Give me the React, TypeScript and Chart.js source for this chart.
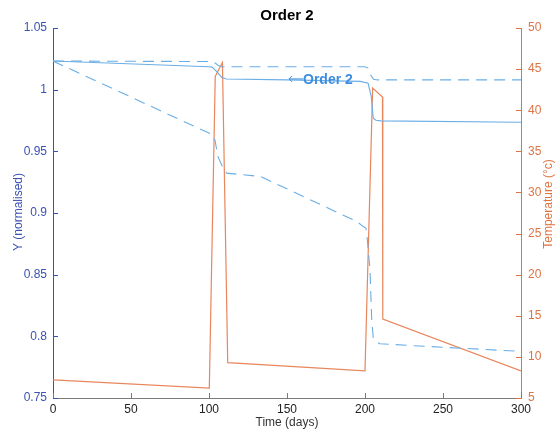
import React, { useEffect, useRef } from "react";
import { Chart, registerables } from "chart.js";

Chart.register(...registerables);

// ---- data ----
const solidT = [0, 100, 102, 105, 108, 111, 150, 197, 202, 204, 205.3, 207, 210, 300];
const solidY = [1.0233, 1.0186, 1.0183, 1.0146, 1.0101, 1.0087, 1.0079, 1.0067, 1.0052, 0.9944, 0.9769, 0.9752, 0.9747, 0.9736];

const upperT = [0, 102.5, 104.5, 106, 108, 200, 202, 204, 205.5, 208, 300];
const upperY = [1.0232, 1.0228, 1.021, 1.0195, 1.0186, 1.0186, 1.0175, 1.011, 1.0085, 1.0079, 1.0079];

const lowerT = [0, 102.5, 103.8, 105.8, 109, 111.3, 133, 195, 198.9, 200.6, 201.5, 203.2, 204.3, 205.3, 207, 209.6, 231, 300];
const lowerY = [1.0232, 0.9633, 0.9593, 0.9455, 0.9366, 0.9323, 0.9296, 0.8929, 0.889, 0.8878, 0.8783, 0.854, 0.8135, 0.7987, 0.7955, 0.794, 0.7924, 0.7878];

const tempT = [0, 100.2, 104.0, 108.6, 112, 200, 204.9, 211.2, 211.4, 300];
const tempV = [7.2, 6.2, 44.1, 45.8, 9.3, 8.3, 42.7, 41.6, 14.6, 8.3];

const xTicks = [0, 50, 100, 150, 200, 250, 300];
const leftTicks = [0.75, 0.8, 0.85, 0.9, 0.95, 1, 1.05];
const leftTickLabels = ["0.75", "0.8", "0.85", "0.9", "0.95", "1", "1.05"];
const rightTicks = [5, 10, 15, 20, 25, 30, 35, 40, 45, 50];

const titleText = "Order 2";
const annotationText = "Order 2";
const annotationAt = { x: 150, y: 1.0079 };

const BLUE_AXIS = "#3c52b3";
const ORANGE_AXIS = "#dc7445";
const BLUE_LINE = "#6aaee6";
const ORANGE_LINE = "#e8865c";
const GRAY = "#7a7a7a";
const FONT = "'Liberation Sans', Arial, Helvetica, sans-serif";

const zip = (t: number[], v: number[]) => t.map((x, i) => ({ x, y: v[i] }));

const decorPlugin = {
  id: "decor",
  afterDatasetsDraw(chart: any) {
    const { ctx, chartArea, scales } = chart;
    const x = scales.x, yl = scales.yL, yr = scales.yR;
    ctx.save();
    ctx.lineWidth = 1;
    // inward ticks
    ctx.strokeStyle = GRAY;
    xTicks.forEach((v) => {
      const px = Math.round(x.getPixelForValue(v)) + 0.5;
      ctx.beginPath();
      ctx.moveTo(px, chartArea.bottom);
      ctx.lineTo(px, chartArea.bottom - 5);
      ctx.stroke();
    });
    ctx.strokeStyle = BLUE_AXIS;
    leftTicks.forEach((v) => {
      const py = Math.round(yl.getPixelForValue(v)) + 0.5;
      ctx.beginPath();
      ctx.moveTo(chartArea.left, py);
      ctx.lineTo(chartArea.left + 5, py);
      ctx.stroke();
    });
    ctx.strokeStyle = ORANGE_AXIS;
    rightTicks.forEach((v) => {
      const py = Math.round(yr.getPixelForValue(v)) + 0.5;
      ctx.beginPath();
      ctx.moveTo(chartArea.right, py);
      ctx.lineTo(chartArea.right - 5, py);
      ctx.stroke();
    });
    // title
    ctx.fillStyle = "#000";
    ctx.font = `bold 15px ${FONT}`;
    ctx.textAlign = "center";
    ctx.textBaseline = "middle";
    ctx.fillText(titleText, (chartArea.left + chartArea.right) / 2, 16);
    // axis titles
    ctx.font = `12px ${FONT}`;
    ctx.fillStyle = "#333";
    ctx.fillText("Time (days)", (chartArea.left + chartArea.right) / 2, 423);
    ctx.save();
    ctx.translate(19, 212);
    ctx.rotate(-Math.PI / 2);
    ctx.fillStyle = BLUE_AXIS;
    ctx.fillText("Y (normalised)", 0, 0);
    ctx.restore();
    ctx.save();
    ctx.translate(549, 204);
    ctx.rotate(-Math.PI / 2);
    ctx.fillStyle = ORANGE_AXIS;
    ctx.fillText("Temperature (°c)", 0, 0);
    ctx.restore();
    // annotation
    const ax = x.getPixelForValue(annotationAt.x);
    const ay = yl.getPixelForValue(annotationAt.y);
    ctx.strokeStyle = "#3d8de0";
    ctx.fillStyle = "#3d8de0";
    ctx.lineWidth = 1;
    ctx.beginPath();
    ctx.moveTo(ax + 2, ay - 1);
    ctx.lineTo(ax + 16, ay - 1);
    ctx.moveTo(ax + 5, ay - 4);
    ctx.lineTo(ax + 2, ay - 1);
    ctx.lineTo(ax + 5, ay + 2);
    ctx.stroke();
    ctx.font = `bold 14px ${FONT}`;
    ctx.textAlign = "left";
    ctx.fillText(annotationText, ax + 16, ay);
    ctx.restore();
  },
};

export default function App() {
  const ref = useRef<HTMLCanvasElement | null>(null);
  useEffect(() => {
    document.body.style.margin = "0";
    const ctx = ref.current!.getContext("2d")!;
    const chart = new Chart(ctx, {
      type: "line",
      data: {
        datasets: [
          { data: zip(solidT, solidY), borderColor: BLUE_LINE, borderWidth: 1.1, pointRadius: 0, yAxisID: "yL", tension: 0 },
          { data: zip(upperT, upperY), borderColor: BLUE_LINE, borderWidth: 1.1, borderDash: [11, 7], pointRadius: 0, yAxisID: "yL", tension: 0 },
          { data: zip(lowerT, lowerY), borderColor: BLUE_LINE, borderWidth: 1.1, borderDash: [11, 7], pointRadius: 0, yAxisID: "yL", tension: 0 },
          { data: zip(tempT, tempV), borderColor: ORANGE_LINE, borderWidth: 1.2, pointRadius: 0, yAxisID: "yR", tension: 0 },
        ],
      },
      options: {
        animation: false,
        responsive: true,
        maintainAspectRatio: false,
        layout: { padding: { top: 28, left: 0, right: 0, bottom: 0 } },
        plugins: { legend: { display: false }, title: { display: false }, tooltip: { enabled: false } },
        scales: {
          x: {
            type: "linear",
            min: 0,
            max: 300,
            afterBuildTicks: (s: any) => { s.ticks = xTicks.map((v) => ({ value: v })); },
            afterFit: (s: any) => { s.height = 37; },
            grid: { display: false, drawTicks: false },
            border: { display: true, color: GRAY },
            ticks: { color: "#222", font: { size: 12, family: FONT }, padding: 4, maxRotation: 0 },
          },
          yL: {
            type: "linear",
            position: "left",
            min: 0.75,
            max: 1.05,
            afterBuildTicks: (s: any) => { s.ticks = leftTicks.map((v) => ({ value: v })); },
            afterFit: (s: any) => { s.width = 53; },
            grid: { display: false, drawTicks: false },
            border: { display: true, color: BLUE_AXIS },
            ticks: {
              color: BLUE_AXIS,
              font: { size: 12, family: FONT },
              padding: 6,
              callback: (v: any) => leftTickLabels[leftTicks.indexOf(Number(v))] ?? String(v),
            },
          },
          yR: {
            type: "linear",
            position: "right",
            min: 5,
            max: 50,
            afterBuildTicks: (s: any) => { s.ticks = rightTicks.map((v) => ({ value: v })); },
            afterFit: (s: any) => { s.width = 36; },
            grid: { display: false, drawTicks: false },
            border: { display: true, color: ORANGE_AXIS },
            ticks: { color: ORANGE_AXIS, font: { size: 12, family: FONT }, padding: 7 },
          },
        },
      } as any,
      plugins: [decorPlugin],
    });
    return () => chart.destroy();
  }, []);
  return (
    <div style={{ position: "relative", width: 557, height: 435 }}>
      <canvas ref={ref} />
    </div>
  );
}
